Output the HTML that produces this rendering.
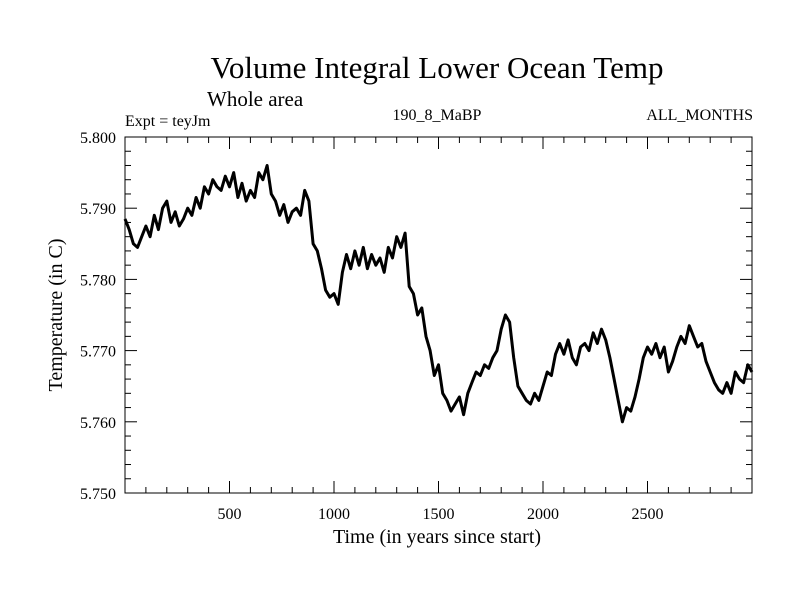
<!DOCTYPE html>
<html><head><meta charset="utf-8"><style>
body{margin:0;background:#fff;}
svg text{font-family:"Liberation Serif",serif;fill:#000;}
</style></head><body>
<svg id="chart" width="800" height="600">
<text x="437" y="78" font-size="31" text-anchor="middle">Volume Integral Lower Ocean Temp</text>
<text x="207" y="106" font-size="21">Whole area</text>
<text x="125" y="126" font-size="16">Expt = teyJm</text>
<text x="437" y="120" font-size="16" text-anchor="middle">190_8_MaBP</text>
<text x="753" y="120" font-size="16" text-anchor="end">ALL_MONTHS</text>
<text x="437" y="543" font-size="20" text-anchor="middle">Time (in years since start)</text>
<text transform="translate(62,315) rotate(-90)" font-size="20" text-anchor="middle">Temperature (in C)</text>
<g id="axes"></g>
<path id="series" fill="none" stroke="#000" stroke-width="3" stroke-linejoin="round"></path>
</svg>
<script>
const xTicks=[500,1000,1500,2000,2500];
const yTicks=[5.75,5.76,5.77,5.78,5.79,5.80];
const yTickLabels=["5.750","5.760","5.770","5.780","5.790","5.800"];
const years=[];for(let i=0;i<=150;i++)years.push(i*20);
const temps=[38.5,37,35,34.5,36,37.5,36,39,37,40,41,38,39.5,37.5,38.5,40,39,41.5,40,43,42,44,43,42.5,44.5,43,45,41.5,43.5,41,42.5,41.5,45,44,46,42,41,39,40.5,38,39.5,40,39,42.5,41,35,34,31.5,28.5,27.5,28,26.5,31,33.5,31.5,34,32,34.5,31.5,33.5,32,33,31,34.5,33,36,34.5,36.5,29,28,25,26,22,20,16.5,18,14,13,11.5,12.5,13.5,11,14,15.5,17,16.5,18,17.5,19,20,23,25,24,19,15,14,13,12.5,14,13,15,17,16.5,19.5,21,19.5,21.5,19,18,20.5,21,20,22.5,21,23,21.5,19,16,13,10,12,11.5,13.5,16,19,20.5,19.5,21,19,20.5,17,18.5,20.5,22,21,23.5,22,20.5,21,18.5,17,15.5,14.5,14,15.5,14,17,16,15.5,18,17].map(v=>5.75+v/1000);
const L=125,R=752,T=137,B=493,X0=0,X1=3000,Y0=5.75,Y1=5.80;
const sx=v=>L+(v-X0)/(X1-X0)*(R-L);
const sy=v=>B-(v-Y0)/(Y1-Y0)*(B-T);
const ns="http://www.w3.org/2000/svg";
const ax=document.getElementById('axes');
function ln(x1,y1,x2,y2,name){const l=document.createElementNS(ns,'line');l.setAttribute('x1',x1);l.setAttribute('y1',y1);l.setAttribute('x2',x2);l.setAttribute('y2',y2);l.setAttribute('stroke','#000');l.setAttribute('stroke-width','1');


ax.appendChild(l);}
const fr=document.createElementNS(ns,'rect');fr.setAttribute('x',L);fr.setAttribute('y',T);fr.setAttribute('width',R-L);fr.setAttribute('height',B-T);fr.setAttribute('fill','none');fr.setAttribute('stroke','#000');


ax.appendChild(fr);
for(let v=100;v<X1;v+=100){const maj=v%500===0;const len=maj?12:6;ln(sx(v),B,sx(v),B-len,'x-tick');ln(sx(v),T,sx(v),T+len,'x-tick-top');}
for(let i=0;i<=25;i++){const v=Y0+i*0.002;const maj=i%5===0;const len=maj?12:6;ln(L,sy(v),L+len,sy(v),'y-tick');ln(R,sy(v),R-len,sy(v),'y-tick-right');}
xTicks.forEach(v=>{const t=document.createElementNS(ns,'text');t.setAttribute('x',sx(v));t.setAttribute('y',B+26);t.setAttribute('font-size','16');t.setAttribute('text-anchor','middle');t.textContent=v;


ax.appendChild(t);});
yTicks.forEach((v,i)=>{const t=document.createElementNS(ns,'text');t.setAttribute('x',L-9);t.setAttribute('y',sy(v)+6);t.setAttribute('font-size','16');t.setAttribute('text-anchor','end');t.textContent=yTickLabels[i];


ax.appendChild(t);});
document.getElementById('series').setAttribute('d',years.map((y,i)=>(i?'L':'M')+sx(y).toFixed(1)+','+sy(temps[i]).toFixed(1)).join(''));
</script>
</body></html>
